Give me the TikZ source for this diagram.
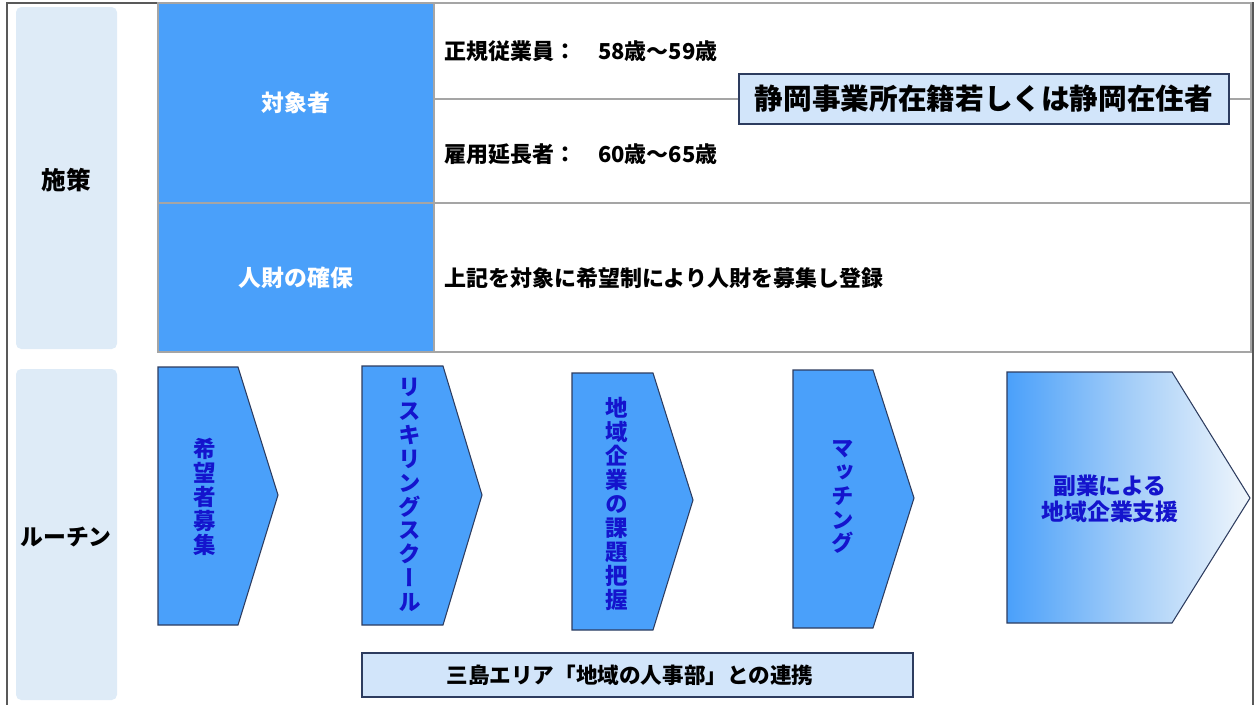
\documentclass[tikz,border=0pt]{standalone}
\usepackage{fontspec}
\setmainfont{Noto Sans CJK JP}
\newfontfamily\jpvert[RawFeature=+vert]{Noto Sans CJK JP}
\definecolor{cellblue}{RGB}{74,160,250}
\definecolor{paleblue}{RGB}{222,235,247}
\definecolor{calloutblue}{RGB}{210,229,250}
\definecolor{stepblue}{RGB}{20,20,205}
\definecolor{edgenavy}{RGB}{45,60,95}
\definecolor{gridgray}{RGB}{165,165,165}
\tikzset{
	sidebox/.style={fill=paleblue, rounded corners=3pt},
	sidetext/.style={font=\fontsize{14}{16}\selectfont\bfseries},
	headtext/.style={text=white, font=\fontsize{13}{15}\selectfont\bfseries},
	celltext/.style={anchor=west, inner sep=0pt, font=\fontsize{12.5}{14}\selectfont\bfseries},
	chevron/.style={draw=edgenavy, line width=0.6pt, fill=cellblue},
	steptext/.style={text=stepblue, align=center, font=\jpvert\fontsize{12.8}{13.6}\selectfont\bfseries},
	notebox/.style={draw=edgenavy, line width=0.8pt, fill=calloutblue},
}
\begin{document}
\begin{tikzpicture}[x=0.02cm,y=-0.02cm]
	\useasboundingbox (0,0) rectangle (1256,704);
	\draw[black!65, line width=0.8pt] (7,710) -- (7,3) -- (1253,3) -- (1253,710);
	
	% side labels
	\fill[sidebox] (16,7) rectangle (117,349);
	\node[sidetext] (shisaku) at (66,180) {施策};
	\fill[sidebox] (16,369) rectangle (117,700);
	\node[sidetext, font=\fontsize{13}{15}\selectfont\bfseries] (routine) at (66,537) {ルーチン};
	
	% table
	\fill[cellblue] (158,3) rectangle (434,352);
	\draw[gridgray, line width=0.8pt] (158,3) rectangle (1251,352);
	\draw[gridgray, line width=0.8pt] (434,99) -- (1251,99);
	\draw[gridgray, line width=0.8pt] (158,203) -- (1251,203);
	\draw[gridgray, line width=0.8pt] (434,3) -- (434,352);
	\node[headtext] (taisho) at (296,103) {対象者};
	\node[headtext] (jinzai) at (296,278) {人財の確保};
	\node[celltext] (seiki) at (444,51) {正規従業員：\quad 58歳～59歳};
	\node[celltext] (koyou) at (444,154) {雇用延長者：\quad 60歳～65歳};
	\node[celltext] (toroku) at (444,278) {上記を対象に希望制により人財を募集し登録};
	\draw[notebox] (739,74) rectangle (1229,124);
	\node[font=\fontsize{16.3}{18}\selectfont\bfseries] (zaiseki) at (984,99) {静岡事業所在籍若しくは静岡在住者};
	
	% steps
	\draw[chevron] (158,367) -- (238,367) -- (278,495) -- (238,625) -- (158,625) -- cycle;
	\node[steptext] (boshu) at (205,497) {希\\望\\者\\募\\集};
	\draw[chevron] (362,366) -- (443,366) -- (482,495) -- (443,625) -- (362,625) -- cycle;
	\node[steptext] (reskill) at (410,495) {リ\\ス\\キ\\リ\\ン\\グ\\ス\\ク\\ー\\ル};
	\draw[chevron] (572,373) -- (653,373) -- (693,500) -- (653,630) -- (572,630) -- cycle;
	\node[steptext] (kadai) at (617,504) {地\\域\\企\\業\\の\\課\\題\\把\\握};
	\draw[chevron] (793,370) -- (873,370) -- (914,498) -- (873,628) -- (793,628) -- cycle;
	\node[steptext] (matching) at (843,497) {マ\\ッ\\チ\\ン\\グ};
	\draw[draw=edgenavy, line width=0.6pt, left color=cellblue, right color=paleblue!45, middle color=cellblue!40!paleblue]
		(1007,372) -- (1172,372) -- (1250,498) -- (1172,623) -- (1007,623) -- cycle;
	\node[text=stepblue, align=center, font=\fontsize{13}{15}\selectfont\bfseries] (shien) at (1110,499) {副業による\\地域企業支援};
	
	% bottom note
	\draw[notebox] (362,653) rectangle (913,697);
	\node[font=\fontsize{12.3}{14}\selectfont\bfseries] (renkei) at (630,675) {三島エリア「地域の人事部」との連携};
\end{tikzpicture}
\end{document}
